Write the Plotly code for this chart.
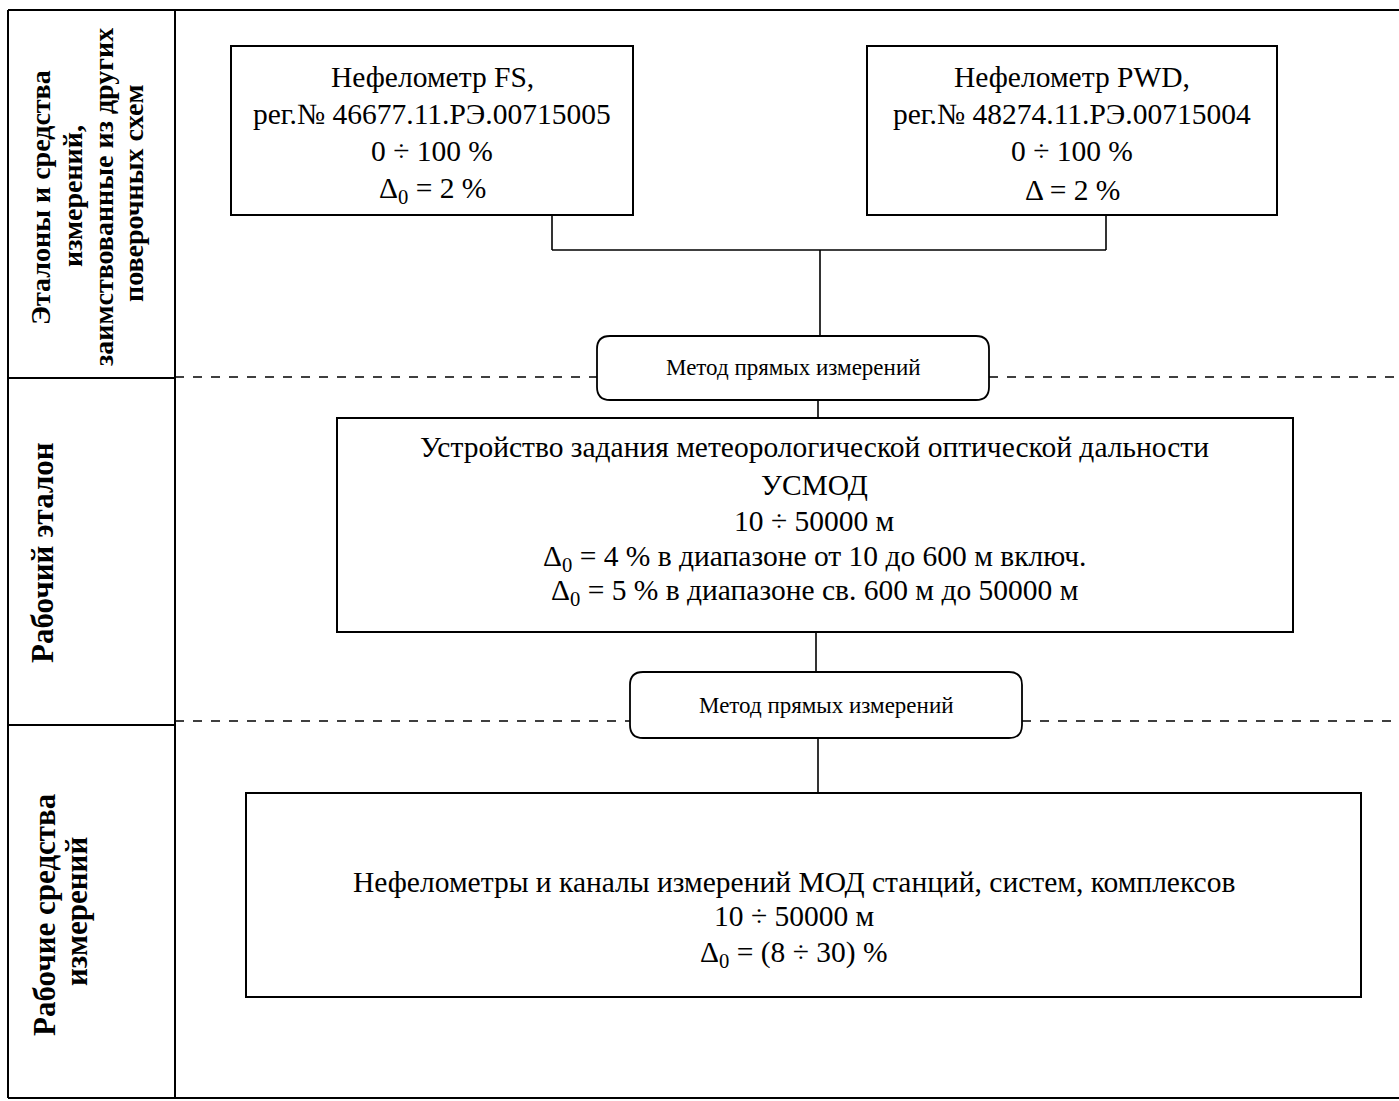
import plotly.graph_objects as go

W, H = 1399, 1101

# ---- text content ----
fs_lines = ["Нефелометр FS,", "рег.№ 46677.11.РЭ.00715005", "0 ÷ 100 %", "Δ<sub>0</sub> = 2 %"]
pwd_lines = ["Нефелометр PWD,", "рег.№ 48274.11.РЭ.00715004", "0 ÷ 100 %", "Δ = 2 %"]
method_label = "Метод прямых измерений"
usmod_lines = ["Устройство задания метеорологической оптической дальности", "УСМОД", "10 ÷ 50000 м",
               "Δ<sub>0</sub> = 4 % в диапазоне от 10 до 600 м включ.",
               "Δ<sub>0</sub> = 5 % в диапазоне св. 600 м до 50000 м"]
work_lines = ["Нефелометры и каналы измерений МОД станций, систем, комплексов", "10 ÷ 50000 м",
              "Δ<sub>0</sub> = (8 ÷ 30) %"]
row1_label = ["Эталоны и средства", "измерений,", "заимствованные из других", "поверочных схем"]
row2_label = ["Рабочий эталон"]
row3_label = ["Рабочие средства", "измерений"]

SERIF = "Liberation Serif, Times New Roman, serif"

fig = go.Figure()
shapes = []
annots = []

def line(x0, y0, x1, y1, w=1.6, dash="solid"):
    shapes.append(dict(type="line", x0=x0, y0=y0, x1=x1, y1=y1, xref="x", yref="y",
                       line=dict(color="black", width=w, dash=dash)))

def rect(x0, y0, x1, y1, w=2):
    shapes.append(dict(type="rect", x0=x0, y0=y0, x1=x1, y1=y1, xref="x", yref="y",
                       line=dict(color="black", width=w), fillcolor="white", layer="above"))

def rrect(x0, y0, x1, y1, r=13, w=1.8):
    p = (f"M {x0+r},{y0} L {x1-r},{y0} Q {x1},{y0} {x1},{y0+r} L {x1},{y1-r} Q {x1},{y1} {x1-r},{y1} "
         f"L {x0+r},{y1} Q {x0},{y1} {x0},{y1-r} L {x0},{y0+r} Q {x0},{y0} {x0+r},{y0} Z")
    shapes.append(dict(type="path", path=p, xref="x", yref="y",
                       line=dict(color="black", width=w), fillcolor="white", layer="above"))

def text(x, y, s, size, bold=False, angle=0):
    if bold:
        s = "<b>" + s + "</b>"
    annots.append(dict(x=x, y=y, xref="x", yref="y", text=s, showarrow=False, textangle=angle,
                       font=dict(family=SERIF, size=size, color="black"), align="center"))

def block(x, ys, lines, size):
    for s, y in zip(lines, ys):
        text(x, y, s, size)

# ---- frame ----
line(8, 10, W, 10, 2)
line(8, 1098, W, 1098, 2)
line(8, 10, 8, 1098, 2)
line(175, 10, 175, 1098, 2)
line(8, 378, 175, 378, 2)
line(8, 725, 175, 725, 2)
# dashed separators
line(175, 377, 597, 377, 1.5, "dash")
line(989, 377, W, 377, 1.5, "dash")
line(175, 721, 630, 721, 1.5, "dash")
line(1022, 721, W, 721, 1.5, "dash")

# ---- connectors ----
line(552, 215, 552, 250)
line(1106, 215, 1106, 250)
line(552, 250, 1106, 250)
line(820, 250, 820, 336)
line(818, 400, 818, 418)
line(816, 632, 816, 672)
line(818, 738, 818, 795)

# ---- boxes ----
rect(231, 46, 633, 215)
rect(867, 46, 1277, 215)
rrect(597, 336, 989, 400)
rect(337, 418, 1293, 632)
rrect(630, 672, 1022, 738)
rect(246, 793, 1361, 997)

# ---- texts ----
block(432, [77, 114, 151, 190], fs_lines, 29.5)
block(1072, [77, 114, 151, 190], pwd_lines, 29.5)
text(793, 367, method_label, 23)
block(814, [447, 485, 521, 558, 592], usmod_lines, 29.5)
text(826, 705, method_label, 23)
block(794, [882, 916, 954], work_lines, 29.5)

row1_pos = [(40, 198), (72, 196), (103, 197), (133, 194)]
for s, (x, y) in zip(row1_label, row1_pos):
    text(x, y, s, 28, bold=True, angle=-90)
text(42, 553, row2_label[0], 31, bold=True, angle=-90)
row3_pos = [(44, 915), (76, 912)]
for s, (x, y) in zip(row3_label, row3_pos):
    text(x, y, s, 31, bold=True, angle=-90)

fig.update_layout(
    width=W, height=H, margin=dict(l=0, r=0, t=0, b=0),
    paper_bgcolor="white", plot_bgcolor="white",
    xaxis=dict(range=[0, W], visible=False, fixedrange=True),
    yaxis=dict(range=[H, 0], visible=False, fixedrange=True),
    shapes=shapes, annotations=annots, showlegend=False,
)
fig.write_html("out.html", config={"displayModeBar": False},
               post_script="document.body.style.margin='0';document.body.style.overflow='hidden';")
